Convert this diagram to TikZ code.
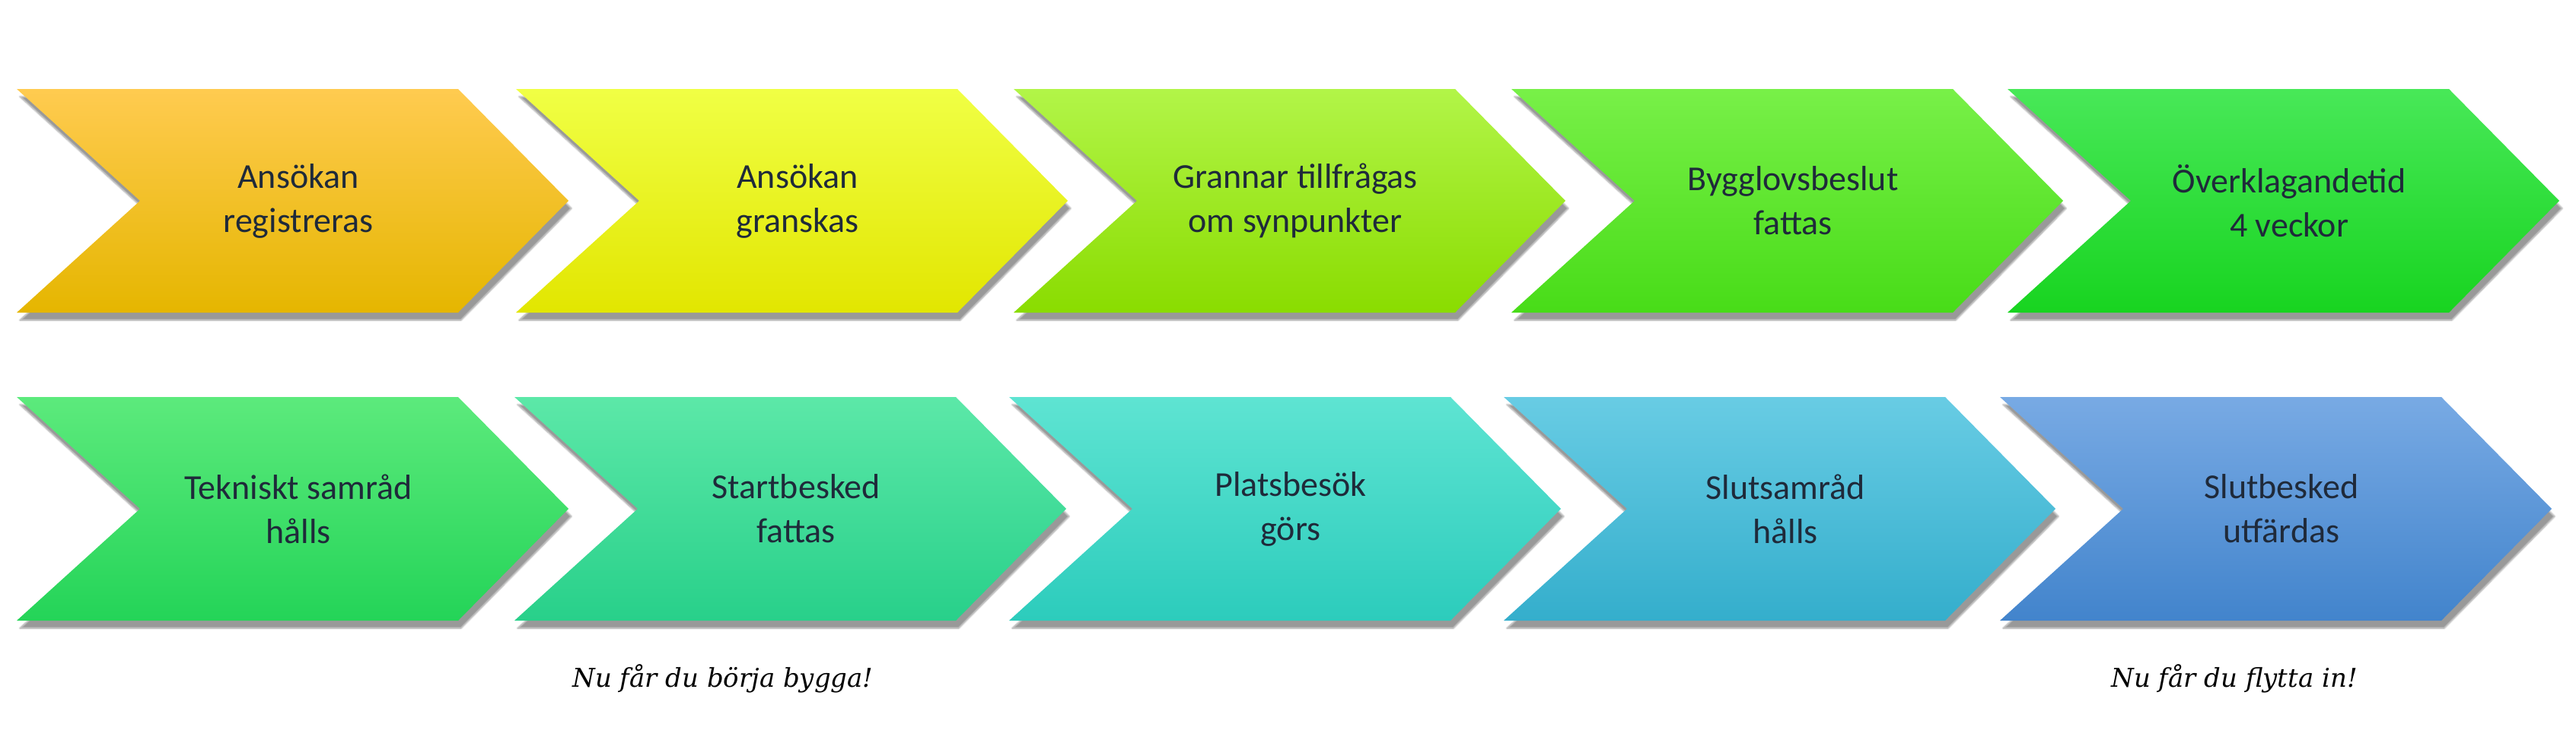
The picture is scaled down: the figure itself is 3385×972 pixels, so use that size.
\documentclass[tikz,border=0pt]{standalone}
\usepackage{fontspec}
\setmainfont{Carlito}
\newfontfamily\scriptf{DejaVu Serif}
\usetikzlibrary{shadows.blur}
\definecolor{txt}{HTML}{1F2A3A}
\tikzset{
  chev/.style={blur shadow={shadow xshift=4pt,shadow yshift=-10pt,shadow blur steps=8,shadow opacity=40}},
  lbl/.style={font=\fontsize{46}{58}\selectfont, text=txt, align=center},
  note/.style={font=\scriptf\itshape\fontsize{34}{40}\selectfont}
}
% #1 name #2 left x #3 top y #4 top color #5 middle color #6 bottom color #7 text
\newcommand{\chevron}[7]{%
  \definecolor{ctop}{HTML}{#4}\definecolor{cmid}{HTML}{#5}\definecolor{cbot}{HTML}{#6}%
  \shade[chev, top color=ctop, middle color=cmid, bottom color=cbot]
    (#2,#3) -- ++(580,0) -- ++(145,-147) -- ++(-145,-147) -- ++(-580,0) -- ++(162,147) -- cycle;
  \node[lbl] (#1) at (#2+370,#3-147) {#7};
}
\begin{document}
\begin{tikzpicture}[x=1pt,y=1pt]
\useasboundingbox (0,0) rectangle (3385,-972);
\chevron{a1}{22}{-117}{FFCB50}{FFC400}{E5B600}{Ansökan\\registreras}
\chevron{a2}{678}{-117}{F0FF45}{F2FF10}{E2E600}{Ansökan\\granskas}
\chevron{a3}{1332}{-117}{B2F548}{A2EE20}{8ADC00}{Grannar tillfrågas\\om synpunkter}
\chevron{a4}{1986}{-117}{78F048}{62EC30}{48DC18}{Bygglovsbeslut\\fattas}
\chevron{a5}{2638}{-117}{48E858}{30E438}{18D420}{Överklagandetid\\4 veckor}
\chevron{b1}{22}{-522}{5CEA7C}{3EE468}{24D458}{Tekniskt samråd\\hålls}
\chevron{b2}{676}{-522}{5CE8A8}{40E09A}{28D08A}{Startbesked\\fattas}
\chevron{b3}{1326}{-522}{5EE4D2}{42DCCC}{2CCCBC}{Platsbesök\\görs}
\chevron{b4}{1976}{-522}{68CCE4}{4CC0DC}{34AECC}{Slutsamråd\\hålls}
\chevron{b5}{2628}{-522}{78AAE4}{5C9ADC}{4284CC}{Slutbesked\\utfärdas}
\node[note] (n1) at (950,-892) {Nu får du börja bygga!};
\node[note] (n2) at (2936,-892) {Nu får du flytta in!};
\end{tikzpicture}
\end{document}
